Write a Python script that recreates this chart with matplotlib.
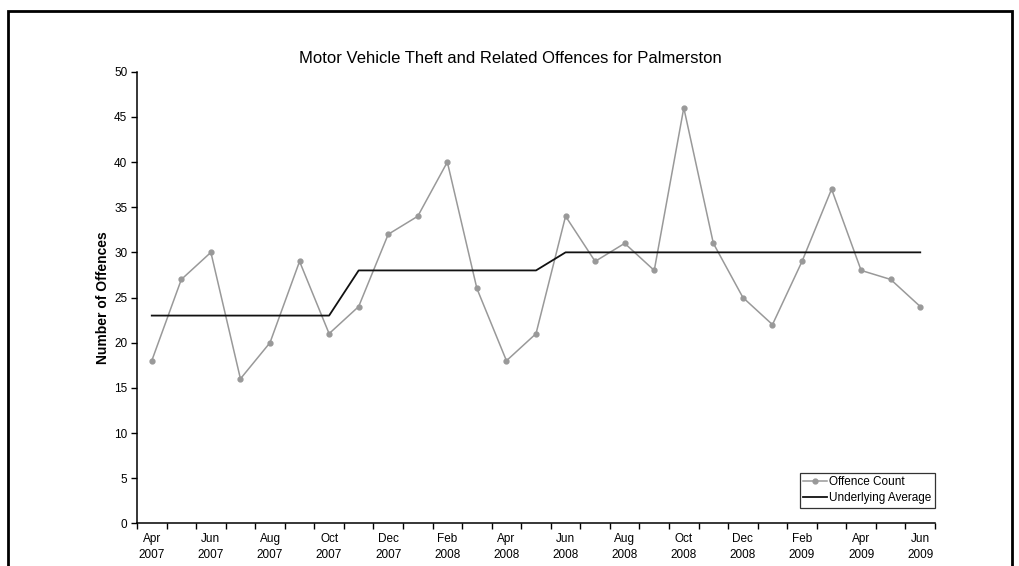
import matplotlib
matplotlib.use('Agg')
import matplotlib.pyplot as plt
import numpy as np
from matplotlib.patches import Rectangle

plt.rcParams['font.family'] = ['Liberation Sans', 'DejaVu Sans']

months = ['Apr 2007', 'May 2007', 'Jun 2007', 'Jul 2007', 'Aug 2007', 'Sep 2007',
          'Oct 2007', 'Nov 2007', 'Dec 2007', 'Jan 2008', 'Feb 2008', 'Mar 2008',
          'Apr 2008', 'May 2008', 'Jun 2008', 'Jul 2008', 'Aug 2008', 'Sep 2008',
          'Oct 2008', 'Nov 2008', 'Dec 2008', 'Jan 2009', 'Feb 2009', 'Mar 2009',
          'Apr 2009', 'May 2009', 'Jun 2009']
offence_count = [18, 27, 30, 16, 20, 29, 21, 24, 32, 34, 40, 26, 18, 21,
                 34, 29, 31, 28, 46, 31, 25, 22, 29, 37, 28, 27, 24]
underlying_avg = [23, 23, 23, 23, 23, 23, 23, 28, 28, 28, 28, 28, 28, 28,
                  30, 30, 30, 30, 30, 30, 30, 30, 30, 30, 30, 30, 30]

fig = plt.figure(figsize=(10.2, 5.66), dpi=100)
ax = fig.add_axes([0.1343, 0.0754, 0.7824, 0.7979])

x = np.arange(len(months))
ax.plot(x, offence_count, color='#999999', lw=1.1, marker='o', markersize=3.5,
        markeredgecolor='#999999', label='Offence Count')
ax.plot(x, underlying_avg, color='#111111', lw=1.3, label='Underlying Average')

ax.set_xlim(-0.5, len(months) - 0.5)
ax.set_ylim(0, 50)
ax.set_yticks(np.arange(0, 51, 5))

# excel style category axis: ticks between categories, labels on every 2nd
ax.set_xticks(np.arange(-0.5, len(months), 1.0))
ax.set_xticklabels([])
ax.set_xticks(x[::2], minor=True)
ax.set_xticklabels([m.replace(' ', '\n') for m in months[::2]], minor=True,
                   linespacing=1.45)
ax.tick_params(axis='x', which='minor', length=0, pad=7, labelsize=8.5)
ax.tick_params(axis='x', which='major', length=4, width=1, direction='out')
ax.tick_params(axis='y', length=4, width=1, labelsize=8.5, pad=3)

for s in ['top', 'right']:
    ax.spines[s].set_visible(False)
for s in ['left', 'bottom']:
    ax.spines[s].set_linewidth(1.1)
    ax.spines[s].set_color('black')

ax.set_ylabel('Number of Offences', fontsize=10, fontweight='bold', labelpad=3)
fig.text(0.5, 0.897, 'Motor Vehicle Theft and Related Offences for Palmerston',
         ha='center', va='center', fontsize=12)

leg = ax.legend(loc='lower right', bbox_to_anchor=(1.0, 0.035), fontsize=8.5,
                frameon=True, fancybox=False, borderpad=0.3, labelspacing=0.3,
                handlelength=2.0, handletextpad=0.2, borderaxespad=0)
leg.get_frame().set_edgecolor('black')
leg.get_frame().set_linewidth(0.9)

fig.patches.append(Rectangle((8 / 1020, -0.05), (1012 - 8) / 1020, 1.05 - 11 / 566,
                             transform=fig.transFigure, fill=False,
                             edgecolor='black', lw=2))

fig.savefig('out.png', dpi=100)
